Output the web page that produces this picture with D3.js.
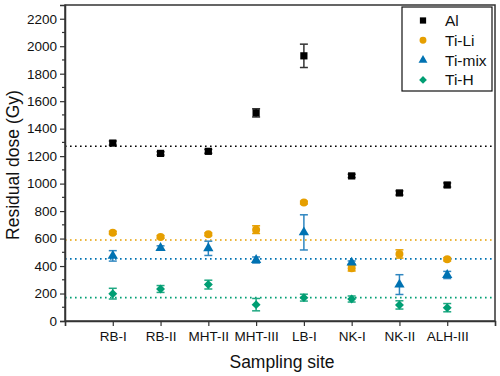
<!DOCTYPE html>
<html>
<head>
<meta charset="utf-8">
<script src="https://cdn.jsdelivr.net/npm/d3@7.9.0/dist/d3.min.js"></script>
<style>
  body { margin: 0; background: #fff; }
  svg { display: block; font-family: Arial, "Liberation Sans", sans-serif; }
</style>
</head>
<body>
<svg id="chart" width="500" height="376"></svg>
<script>
// sampling sites
const sites = ['RB-I', 'RB-II', 'MHT-II', 'MHT-III', 'LB-I', 'NK-I', 'NK-II', 'ALH-III'];

// residual dose (Gy) and errors per series
const alDose = [1295, 1220, 1235, 1515, 1930, 1056, 932, 990];
const alErr = [15, 12, 14, 30, 85, 12, 15, 15];
const tiLiDose = [643, 612, 631, 665, 862, 384, 488, 449];
const tiLiErr = [10, 10, 10, 28, 10, 20, 30, 12];
const tiMixDose = [474, 532, 529, 444, 645, 425, 265, 335];
const tiMixErr = [38, 15, 52, 22, 128, 12, 72, 26];
const tiHDose = [199, 233, 265, 119, 170, 160, 117, 97];
const tiHErr = [39, 25, 32, 45, 25, 22, 30, 30];

// mean lines
const meanLines = [1272, 590, 452, 170];

const series = [
  { name: 'Al', dose: alDose, err: alErr, color: '#000000', errColor: '#333333', symbol: d3.symbolSquare, size: 52, rot: 0 },
  { name: 'Ti-Li', dose: tiLiDose, err: tiLiErr, color: '#E69F00', errColor: '#E69F00', symbol: d3.symbolCircle, size: 50, rot: 0 },
  { name: 'Ti-mix', dose: tiMixDose, err: tiMixErr, color: '#0072B2', errColor: '#2F86C0', symbol: d3.symbolTriangle, size: 46, rot: 0 },
  { name: 'Ti-H', dose: tiHDose, err: tiHErr, color: '#009E73', errColor: '#1FA882', symbol: d3.symbolSquare, size: 40, rot: 45 }
];

const yTicks = d3.range(0, 2201, 200);
const yMinor = d3.range(100, 2200, 200);

const svg = d3.select('#chart');
const mLeft = 65, mRight = 495, mTop = 5, mBottom = 321;

const x = d3.scaleLinear().domain([0, sites.length + 1]).range([mLeft, mRight]);
const y = d3.scaleLinear().domain([0, 2300]).range([mBottom, mTop]);

// mean lines (dotted)
svg.append('g')
  .selectAll('line')
  .data(meanLines)
  .join('line')
  .attr('x1', mLeft).attr('x2', mRight)
  .attr('y1', d => y(d)).attr('y2', d => y(d))
  .attr('stroke', (d, i) => series[i].color)
  .attr('stroke-width', 1.6)
  .attr('stroke-dasharray', '1.6 3.4');

// frame
svg.append('rect')
  .attr('x', mLeft).attr('y', mTop)
  .attr('width', mRight - mLeft).attr('height', mBottom - mTop)
  .attr('fill', 'none')
  .attr('stroke', '#333')
  .attr('stroke-width', 1.5);

// y axis
const yAxis = svg.append('g')
  .attr('transform', `translate(${mLeft},0)`)
  .call(d3.axisLeft(y).tickValues(yTicks).tickSize(5).tickPadding(3).tickFormat(d3.format('d')));
yAxis.select('.domain').attr('stroke', '#333').attr('stroke-width', 1.5);
yAxis.selectAll('.tick line').attr('stroke', '#333').attr('stroke-width', 1.2);
yAxis.selectAll('.tick text').attr('font-size', 13.5).attr('fill', '#111')
  .attr('font-family', 'Arial, "Liberation Sans", sans-serif');

svg.append('g')
  .selectAll('line')
  .data(yMinor)
  .join('line')
  .attr('x1', mLeft - 3).attr('x2', mLeft)
  .attr('y1', d => y(d)).attr('y2', d => y(d))
  .attr('stroke', '#333').attr('stroke-width', 1.2);

// x axis
const xAxis = svg.append('g')
  .attr('transform', `translate(0,${mBottom})`)
  .call(d3.axisBottom(x).tickValues(d3.range(0, sites.length + 2)).tickSize(5).tickPadding(5)
    .tickFormat(d => (d >= 1 && d <= sites.length) ? sites[d - 1] : ''));
xAxis.select('.domain').attr('stroke', '#333').attr('stroke-width', 1.5);
xAxis.selectAll('.tick line').attr('stroke', '#333').attr('stroke-width', 1.2);
xAxis.selectAll('.tick text').attr('font-size', 13.5).attr('fill', '#111')
  .attr('font-family', 'Arial, "Liberation Sans", sans-serif');

// axis titles
svg.append('text')
  .attr('x', (mLeft + mRight) / 2 + 2).attr('y', 368)
  .attr('text-anchor', 'middle')
  .attr('font-size', 17.5).attr('fill', '#111')
  .text('Sampling site');

svg.append('text')
  .attr('transform', `translate(19,${(mTop + mBottom) / 2 + 2}) rotate(-90)`)
  .attr('text-anchor', 'middle')
  .attr('font-size', 17.5).attr('fill', '#111')
  .text('Residual dose (Gy)');

// error bars and markers
series.forEach(s => {
  const g = svg.append('g');
  const pts = s.dose.map((v, i) => ({ i: i + 1, v, e: s.err[i] }));

  g.selectAll('line.err')
    .data(pts)
    .join('line')
    .attr('class', 'err')
    .attr('x1', d => x(d.i)).attr('x2', d => x(d.i))
    .attr('y1', d => y(d.v - d.e)).attr('y2', d => y(d.v + d.e))
    .attr('stroke', s.errColor).attr('stroke-width', 1.5);

  ['lo', 'hi'].forEach(k => {
    g.selectAll('line.cap-' + k)
      .data(pts)
      .join('line')
      .attr('class', 'cap-' + k)
      .attr('x1', d => x(d.i) - 4).attr('x2', d => x(d.i) + 4)
      .attr('y1', d => y(k === 'lo' ? d.v - d.e : d.v + d.e))
      .attr('y2', d => y(k === 'lo' ? d.v - d.e : d.v + d.e))
      .attr('stroke', s.errColor).attr('stroke-width', 1.5);
  });

  g.selectAll('path')
    .data(pts)
    .join('path')
    .attr('transform', d => `translate(${x(d.i)},${y(d.v)}) rotate(${s.rot})`)
    .attr('d', d3.symbol().type(s.symbol).size(s.size))
    .attr('fill', s.color);
});

// legend
const legend = svg.append('g');
legend.append('rect')
  .attr('x', 402).attr('y', 7)
  .attr('width', 90).attr('height', 84)
  .attr('fill', '#fff')
  .attr('stroke', '#111').attr('stroke-width', 1.2);

const lg = legend.selectAll('g')
  .data(series)
  .join('g')
  .attr('transform', (d, i) => `translate(423,${20.5 + i * 19.8})`);

lg.append('path')
  .attr('transform', d => `rotate(${d.rot})`)
  .attr('d', d => d3.symbol().type(d.symbol).size(d.size * 0.75)())
  .attr('fill', d => d.color);

lg.append('text')
  .attr('x', 22).attr('dy', '0.36em')
  .attr('font-size', 15.5).attr('fill', '#111')
  .text(d => d.name);
</script>
</body>
</html>
